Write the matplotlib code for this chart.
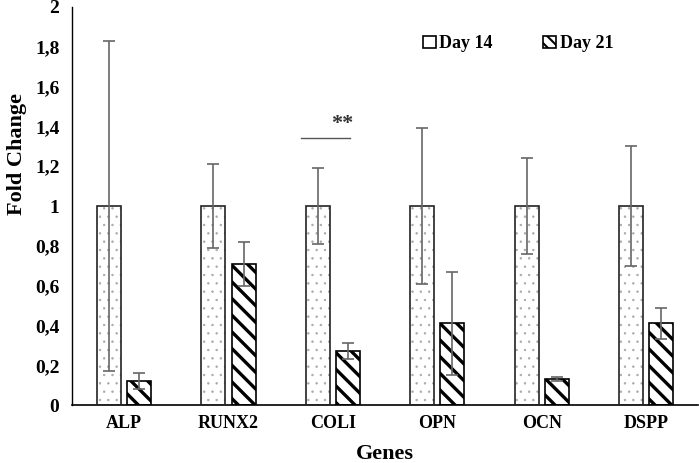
import numpy as np
import matplotlib.pyplot as plt
from matplotlib.patches import Patch
from matplotlib.ticker import FuncFormatter

plt.rcParams['font.family'] = ['Liberation Serif', 'DejaVu Serif']
plt.rcParams['font.weight'] = 'bold'

genes = ['ALP', 'RUNX2', 'COLI', 'OPN', 'OCN', 'DSPP']
day14 = [1, 1, 1, 1, 1, 1]
day14_err = [0.83, 0.21, 0.19, 0.39, 0.24, 0.30]
day21 = [0.12, 0.71, 0.27, 0.41, 0.13, 0.41]
day21_err = [0.04, 0.11, 0.04, 0.26, 0.01, 0.08]

fig, ax = plt.subplots(figsize=(6.99, 4.63), dpi=100)
fig.subplots_adjust(left=0.103, right=0.999, top=0.985, bottom=0.125)

x = np.arange(len(genes))
w = 0.23
gap = 0.03

# Day 14: sparse light dotted fill
plt.rcParams['hatch.color'] = '#a8a8a8'
plt.rcParams['hatch.linewidth'] = 0.5
ax.bar(x - w / 2 - gap, day14, w, color='white', edgecolor='#a8a8a8',
       hatch='..', linewidth=0, zorder=2)
ax.bar(x - w / 2 - gap, day14, w, color='none', edgecolor='#222222', linewidth=1.2, zorder=3)
ax.errorbar(x - w / 2 - gap, day14, yerr=day14_err, fmt='none', ecolor='#666666',
            elinewidth=1.2, capsize=4, capthick=1.2, zorder=4)

# Day 21: black diagonal hatch
plt.rcParams['hatch.linewidth'] = 2.4
ax.bar(x + w / 2 + gap, day21, w, color='white', edgecolor='black',
       hatch='\\\\', linewidth=1.2, zorder=2)
ax.errorbar(x + w / 2 + gap, day21, yerr=day21_err, fmt='none', ecolor='#666666',
            elinewidth=1.2, capsize=4, capthick=1.2, zorder=4)

# significance mark above COLI
ax.plot([x[2] - 0.31, x[2] + 0.16], [1.34, 1.34], color='#555555', lw=1)
ax.text(x[2] + 0.09, 1.41, '**', ha='center', va='center', fontsize=16, color='#333333')

ax.set_xlim(-0.5, len(genes) - 0.5)
ax.set_ylim(0, 2)
ax.set_yticks(np.arange(0, 2.01, 0.2))
ax.yaxis.set_major_formatter(FuncFormatter(
    lambda v, p: ('%g' % round(v, 1)).replace('.', ',')))
ax.set_xticks(x)
ax.set_xticklabels(genes)
ax.tick_params(axis='x', length=0, labelsize=13, pad=7)
ax.tick_params(axis='y', length=0, labelsize=14, pad=9)
ax.spines['top'].set_visible(False)
ax.spines['right'].set_visible(False)
ax.spines['left'].set_linewidth(1)
ax.spines['bottom'].set_linewidth(1.2)

ax.set_xlabel('Genes', fontsize=16, fontweight='bold', labelpad=9)
ax.set_ylabel('Fold Change', fontsize=16, fontweight='bold')
ax.yaxis.set_label_coords(-0.072, 0.63)

plt.rcParams['hatch.linewidth'] = 1.5
h14 = Patch(facecolor='white', edgecolor='black', linewidth=1.2, label='Day 14')
h21 = Patch(facecolor='white', edgecolor='black', hatch='\\\\\\', linewidth=1.2, label='Day 21')
ax.legend(handles=[h14, h21], loc='upper right', bbox_to_anchor=(0.89, 0.97),
          ncol=2, frameon=False, fontsize=13, handlelength=0.7,
          handleheight=0.7, columnspacing=2.8, handletextpad=0.2)

plt.savefig('out.png', dpi=100)
